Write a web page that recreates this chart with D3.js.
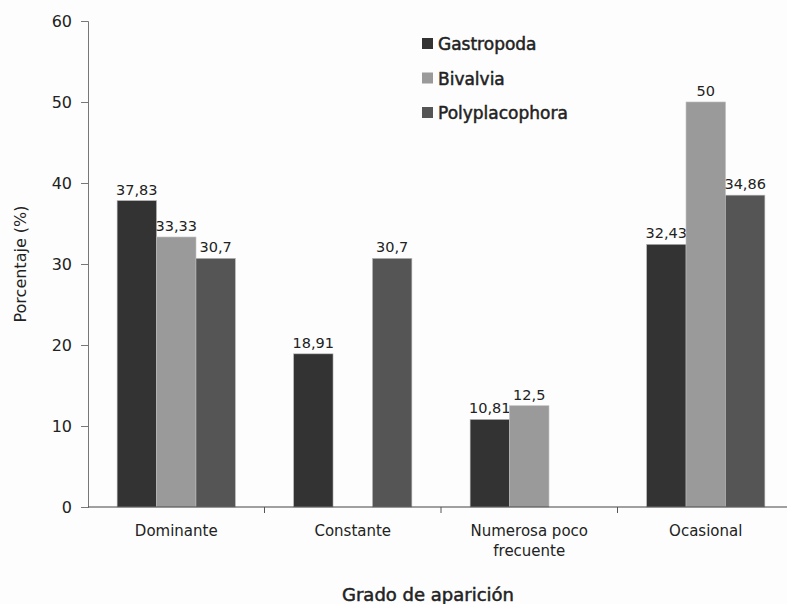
<!DOCTYPE html>
<html lang="es">
<head>
  <meta charset="UTF-8" />
  <script src="https://d3js.org/d3.v7.min.js"></script>
  <style>
    body { margin: 0; background: #fdfdfd; }
    text { font-family: "DejaVu Sans", Verdana, sans-serif; fill: #222; }
  </style>
</head>
<body>
  <div id="chart"></div>

  <script>
    const categories = ["Dominante", "Constante", "Numerosa poco frecuente", "Ocasional"];
    const series = ["Gastropoda", "Bivalvia", "Polyplacophora"];
    const colors = ["#333333", "#9a9a9a", "#555555"];
    // bar heights as drawn in the picture (0 = no bar)
    const gastropoda = [37.83, 18.91, 10.81, 32.43];
    const bivalvia = [33.33, 0, 12.5, 50];
    const polyplacophora = [30.7, 30.7, 0, 38.5];
    // the printed labels (the last one does not match its bar in the original)
    const gastropodaLabels = ["37,83", "18,91", "10,81", "32,43"];
    const bivalviaLabels = ["33,33", "", "12,5", "50"];
    const polyLabels = ["30,7", "30,7", "", "34,86"];
    const yTicks = [0, 10, 20, 30, 40, 50, 60];

    const values = [gastropoda, bivalvia, polyplacophora];
    const labels = [gastropodaLabels, bivalviaLabels, polyLabels];

    const W = 787, H = 604;
    const svg = d3.select("#chart").append("svg").attr("width", W).attr("height", H);

    const mLeft = 88, mRight = 794, mTop = 21, mBottom = 507;
    const x = d3.scaleBand().domain(categories).range([mLeft, mRight]).paddingInner(0).paddingOuter(0);
    const y = d3.scaleLinear().domain([0, 60]).range([mBottom, mTop]);
    const inner = x.bandwidth() * 0.67;
    const xs = d3.scaleBand().domain(series).range([0, inner]);

    // bars
    series.forEach((s, si) => {
      const g = svg.append("g");
      categories.forEach((c, ci) => {
        const v = values[si][ci];
        if (!v) return;
        const bx = x(c) + (x.bandwidth() - inner) / 2 + xs(s);
        g.append("rect")
          .attr("x", bx).attr("y", y(v))
          .attr("width", xs.bandwidth()).attr("height", y(0) - y(v))
          .attr("fill", colors[si])
          .attr("stroke", "#bbb").attr("stroke-width", 0.6);
        const t = labels[si][ci];
        if (t) {
          g.append("text")
            .attr("x", bx + xs.bandwidth() / 2).attr("y", y(v) - 6)
            .attr("text-anchor", "middle")
            .style("font-size", "14.5px")
            .text(t);
        }
      });
    });

    // y axis
    const ya = svg.append("g").attr("transform", `translate(${mLeft},0)`)
      .call(d3.axisLeft(y).tickValues(yTicks).tickSize(7).tickPadding(9));
    ya.select(".domain").attr("stroke", "#777");
    ya.selectAll(".tick line").attr("stroke", "#777");
    ya.selectAll("text").style("font-size", "16px").attr("fill", "#222");

    // x axis: ticks between groups
    svg.append("line").attr("x1", mLeft).attr("x2", W).attr("y1", y(0)).attr("y2", y(0))
      .attr("stroke", "#444").attr("stroke-width", 1.2);
    categories.slice(1).forEach(c => {
      svg.append("line").attr("x1", x(c)).attr("x2", x(c))
        .attr("y1", y(0)).attr("y2", y(0) + 6).attr("stroke", "#555");
    });
    categories.forEach(c => {
      const words = c === "Numerosa poco frecuente" ? ["Numerosa poco", "frecuente"] : [c];
      words.forEach((w, i) => {
        svg.append("text")
          .attr("x", x(c) + x.bandwidth() / 2).attr("y", 536 + i * 20)
          .attr("text-anchor", "middle")
          .style("font-size", "15px")
          .text(w);
      });
    });

    // axis titles
    svg.append("text").attr("x", 428).attr("y", 601)
      .attr("text-anchor", "middle")
      .style("font-size", "18px")
      .attr("stroke", "#222").attr("stroke-width", 0.5)
      .text("Grado de aparición");
    svg.append("text")
      .attr("transform", `translate(26,264) rotate(-90)`)
      .attr("text-anchor", "middle")
      .style("font-size", "16px")
      .text("Porcentaje  (%)");

    // legend
    const lg = svg.append("g").attr("transform", "translate(422,44)");
    series.forEach((s, i) => {
      lg.append("rect").attr("x", 0).attr("y", i * 34.5 - 6).attr("width", 11).attr("height", 11)
        .attr("fill", colors[i]);
      lg.append("text").attr("x", 16).attr("y", i * 34.5 + 6)
        .style("font-size", "17px")
        .attr("stroke", "#222").attr("stroke-width", 0.5)
        .text(s);
    });
  </script>
</body>
</html>
